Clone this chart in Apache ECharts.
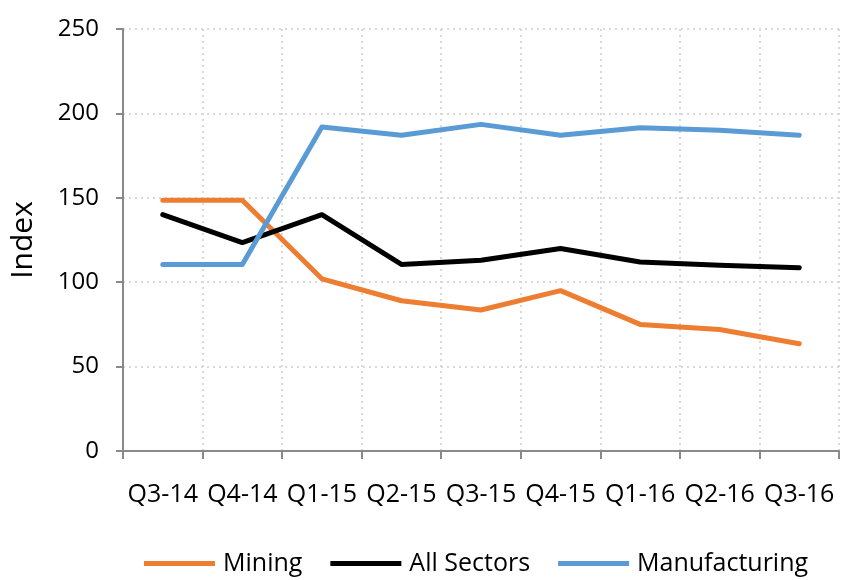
<!DOCTYPE html>
<html>
<head>
<meta charset="utf-8">
<script src="https://cdn.jsdelivr.net/npm/echarts@6/dist/echarts.min.js"></script>
<style>
	html, body { margin: 0; padding: 0; background: #fff; }
	#chart { width: 845px; height: 580px; }
</style>
</head>
<body>
<div id="chart"></div>
<script>
	const quarters = ['Q3-14', 'Q4-14', 'Q1-15', 'Q2-15', 'Q3-15', 'Q4-15', 'Q1-16', 'Q2-16', 'Q3-16'];
	const mining = [148.5, 148.5, 102, 89, 83.5, 95, 75, 72, 63.5];
	const allSectors = [140, 123.5, 140, 110.5, 113, 120, 112, 110, 108.5];
	const manufacturing = [110.5, 110.5, 192, 187, 193.5, 187, 191.5, 190, 187];

	const font = '"Open Sans", "Noto Sans", sans-serif';
	const axisGrey = '#898989';
	const gridGrey = '#d9d9d9';

	const chart = echarts.init(document.getElementById('chart'));

	function lineSeries(name, data, color) {
		return {
			name: name,
			type: 'line',
			data: data,
			symbol: 'none',
			lineStyle: { color: color, width: 5, cap: 'round', join: 'round' },
			itemStyle: { color: color },
			animation: false
		};
	}

	chart.setOption({
		animation: false,
		grid: { left: 123, right: 6, top: 29, bottom: 129 },
		legend: {
			top: 546,
			left: 139,
			itemWidth: 71,
			itemHeight: 14,
			itemGap: 28,
			icon: 'path://M0,6 L71,6 L71,11 L0,11 Z',
			textStyle: { fontFamily: font, fontSize: 25, color: '#000', padding: [0, 0, 0, 3] },
			data: ['Mining', 'All Sectors', 'Manufacturing']
		},
		xAxis: {
			type: 'category',
			data: quarters,
			boundaryGap: true,
			axisLine: { lineStyle: { color: axisGrey, width: 2 } },
			axisTick: { show: true, length: 8, lineStyle: { color: axisGrey, width: 2 } },
			axisLabel: { interval: 0, margin: 31, fontFamily: font, fontSize: 25, color: '#000' },
			splitLine: { show: true, lineStyle: { color: gridGrey, width: 2, type: [2, 4] } }
		},
		yAxis: {
			type: 'value',
			min: 0,
			max: 250,
			interval: 50,
			name: 'Index',
			nameLocation: 'middle',
			nameGap: 85,
			nameRotate: 90,
			nameTextStyle: { fontFamily: font, fontSize: 30, color: '#000' },
			axisLine: { show: true, lineStyle: { color: axisGrey, width: 2 } },
			axisTick: { show: true, length: 7, lineStyle: { color: axisGrey, width: 2 } },
			axisLabel: { margin: 24, fontFamily: font, fontSize: 24, color: '#000' },
			splitLine: { show: true, lineStyle: { color: gridGrey, width: 2, type: [2, 4] } }
		},
		series: [
			lineSeries('Mining', mining, '#ED7D31'),
			lineSeries('All Sectors', allSectors, '#000000'),
			lineSeries('Manufacturing', manufacturing, '#5B9BD5')
		]
	});
</script>
</body>
</html>
